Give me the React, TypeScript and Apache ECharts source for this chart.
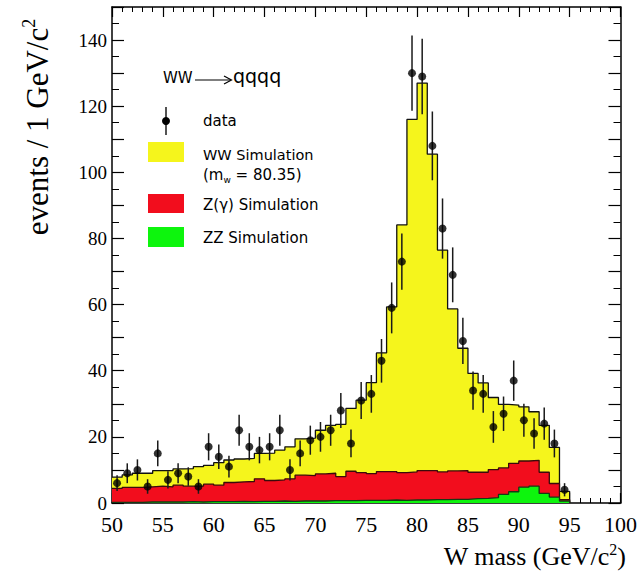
import React, { useEffect, useRef } from "react";
import * as echarts from "echarts";

// Lower edges of 1 GeV bins (W mass, GeV/c^2)
const BIN_LOW = [
  50, 51, 52, 53, 54, 55, 56, 57, 58, 59,
  60, 61, 62, 63, 64, 65, 66, 67, 68, 69,
  70, 71, 72, 73, 74, 75, 76, 77, 78, 79,
  80, 81, 82, 83, 84, 85, 86, 87, 88, 89,
  90, 91, 92, 93, 94,
];
const BIN_HIGH_END = 95;

// Observed events per bin
const DATA_COUNTS = [
  6, 9, 10, 5, 15, 7, 9, 8, 5, 17,
  14, 11, 22, 17, 16, 17, 22, 10, 15, 19,
  20, 22, 28, 18, 31, 33, 43, 59, 73, 130,
  129, 108, 83, 69, 49, 34, 33, 23, 27, 37,
  25, 21, 24, 18, 4,
];
// Half-length of the error bars
const DATA_ERRORS = [
  2.4, 3.0, 3.2, 2.2, 3.9, 2.6, 3.0, 2.8, 2.2, 4.1,
  3.7, 3.3, 4.7, 4.1, 4.0, 4.1, 4.7, 3.2, 3.9, 4.4,
  4.5, 4.7, 5.3, 4.2, 5.6, 5.7, 6.6, 7.7, 8.5, 11.4,
  11.4, 10.4, 9.1, 8.3, 7.0, 5.8, 5.7, 4.8, 5.2, 6.1,
  5.0, 4.6, 4.9, 4.2, 2.0,
];
// Stacked simulation: top of WW + Z(gamma) + ZZ
const TOTAL_SIM_TOP = [
  7.8, 8.5, 9.0, 9.0, 9.8, 9.8, 10.3, 10.4, 11.0, 11.4,
  12.2, 13.0, 13.3, 13.5, 15.0, 15.1, 16.0, 17.0, 19.4, 19.6,
  22.0, 23.5, 23.8, 28.6, 31.1, 36.4, 45.4, 59.3, 84.1, 116.0,
  127.0, 105.5, 76.5, 58.7, 46.8, 39.2, 36.3, 31.9, 29.8, 29.6,
  29.1, 27.6, 23.5, 16.8, 3.5,
];
// Top of Z(gamma) + ZZ
const ZGAMMA_SIM_TOP = [
  4.4, 4.7, 4.7, 4.9, 5.1, 4.9, 5.4, 5.1, 5.1, 5.7,
  5.4, 6.2, 6.4, 6.5, 7.3, 6.8, 7.0, 7.3, 8.4, 8.3,
  8.8, 9.0, 8.0, 9.6, 9.2, 8.9, 9.5, 9.5, 9.2, 9.4,
  9.8, 9.8, 9.4, 9.7, 9.8, 9.3, 9.3, 10.1, 10.6, 12.0,
  12.7, 12.9, 9.3, 5.9, 1.0,
];
// ZZ simulation
const ZZ_SIM = [
  0.2, 0.2, 0.2, 0.3, 0.3, 0.3, 0.3, 0.4, 0.3, 0.4,
  0.4, 0.4, 0.5, 0.4, 0.5, 0.5, 0.6, 0.5, 0.6, 0.6,
  0.6, 0.7, 0.7, 0.7, 0.8, 0.8, 0.8, 0.9, 0.8, 0.9,
  0.9, 1.0, 1.0, 1.1, 1.1, 1.3, 1.4, 1.6, 2.6, 3.4,
  4.8, 5.1, 2.9, 1.8, 0.6,
];

const YELLOW = "#f5f51c";
const RED = "#f20d1d";
const GREEN = "#0df50d";
const SERIF = "'Liberation Serif', 'Times New Roman', serif";
const SANS = "'DejaVu Sans', sans-serif";

function stepData(values: number[]) {
  const pts: number[][] = BIN_LOW.map((x, i) => [x, values[i]]);
  pts.push([BIN_HIGH_END, values[values.length - 1]]);
  pts.push([BIN_HIGH_END, 0]);
  return pts;
}

function histSeries(values: number[], color: string, line: string, z: number) {
  return {
    type: "line",
    step: "end",
    data: stepData(values),
    showSymbol: false,
    symbol: "none",
    z,
    lineStyle: { color: line, width: 1.3 },
    areaStyle: { color, opacity: 1, origin: "start" },
    silent: true,
  };
}

function xAxisDef(position: "bottom" | "top") {
  return {
    type: "value",
    position,
    min: 50,
    max: 100,
    interval: 5,
    axisLine: { show: true, onZero: false, lineStyle: { color: "#000", width: 1.5 } },
    axisTick: { show: true, inside: true, length: 10, lineStyle: { color: "#000", width: 1.2 } },
    minorTick: { show: true, splitNumber: 5, length: 5, lineStyle: { color: "#000", width: 1 } },
    splitLine: { show: false },
    minorSplitLine: { show: false },
    axisLabel: {
      show: position === "bottom",
      color: "#000",
      fontFamily: SERIF,
      fontSize: 22,
      lineHeight: 20,
      margin: 11,
    },
  };
}

function yAxisDef(position: "left" | "right") {
  return {
    type: "value",
    position,
    min: 0,
    max: 150,
    interval: 10,
    axisLine: { show: true, onZero: false, lineStyle: { color: "#000", width: 1.5 } },
    axisTick: { show: true, inside: true, length: 12, lineStyle: { color: "#000", width: 1.2 } },
    minorTick: { show: true, splitNumber: 2, length: 7, lineStyle: { color: "#000", width: 1 } },
    splitLine: { show: false },
    minorSplitLine: { show: false },
    axisLabel: {
      show: position === "left",
      color: "#000",
      fontFamily: SERIF,
      fontSize: 19,
      lineHeight: 16,
      margin: 5,
      formatter: (v: number) => (v % 20 === 0 ? String(v) : ""),
    },
  };
}

export default function App() {
  const ref = useRef<HTMLDivElement>(null);

  useEffect(() => {
    if (!ref.current) return;
    const chart = echarts.init(ref.current, null, { renderer: "svg" });

    const centers = BIN_LOW.map((x) => x + 0.5);
    const pointData = centers.map((c, i) => [c, DATA_COUNTS[i]]);
    const errData = centers.map((c, i) => [c, DATA_COUNTS[i] - DATA_ERRORS[i], DATA_COUNTS[i] + DATA_ERRORS[i]]);

    const legendText = (text: string, x: number, y: number, size = 15) => ({
      type: "text",
      x,
      y,
      z: 100,
      style: { text, fill: "#000", fontFamily: SANS, fontSize: size, verticalAlign: "middle", align: "left" },
    });

    const option: any = {
      animation: false,
      backgroundColor: "#fff",
      grid: { left: 112, right: 15, top: 7, bottom: 72, containLabel: false },
      xAxis: [xAxisDef("bottom"), xAxisDef("top")],
      yAxis: [yAxisDef("left"), yAxisDef("right")],
      series: [
        histSeries(TOTAL_SIM_TOP, YELLOW, "#111", 1),
        histSeries(ZGAMMA_SIM_TOP, RED, "#3a0a0a", 2),
        histSeries(ZZ_SIM, GREEN, "#153a15", 3),
        {
          type: "custom",
          z: 4,
          data: errData,
          encode: { x: 0, y: [1, 2] },
          renderItem: (params: any, api: any) => {
            const x = api.value(0);
            const p1 = api.coord([x, api.value(1)]);
            const p2 = api.coord([x, api.value(2)]);
            return {
              type: "line",
              shape: { x1: p1[0], y1: p1[1], x2: p2[0], y2: p2[1] },
              style: { stroke: "#1a1a1a", lineWidth: 1.5 },
            };
          },
          silent: true,
        },
        {
          type: "scatter",
          z: 5,
          data: pointData,
          symbol: "circle",
          symbolSize: 8,
          itemStyle: { color: "#000" },
          silent: true,
        },
      ],
      graphic: [
        legendText("WW", 163, 78, 15),
        {
          type: "line",
          z: 100,
          shape: { x1: 195, y1: 80, x2: 231, y2: 80 },
          style: { stroke: "#000", lineWidth: 1.2 },
        },
        {
          type: "polyline",
          z: 100,
          shape: { points: [[224, 76], [231.5, 80], [224, 84]] },
          style: { stroke: "#000", lineWidth: 1.2, fill: "none" },
        },
        legendText("qqqq", 233, 76, 19),
        {
          type: "line",
          z: 100,
          shape: { x1: 166, y1: 107, x2: 166, y2: 135 },
          style: { stroke: "#1a1a1a", lineWidth: 1.5 },
        },
        { type: "circle", z: 101, shape: { cx: 166, cy: 121, r: 4 }, style: { fill: "#000" } },
        legendText("data", 203, 121),
        { type: "rect", z: 100, shape: { x: 148, y: 142, width: 36, height: 20 }, style: { fill: YELLOW } },
        legendText("WW Simulation", 203, 155, 14.5),
        {
          type: "text",
          x: 203,
          y: 175,
          z: 100,
          style: {
            text: "{a|(m}{s|w}{a| = 80.35)}",
            fill: "#000",
            fontFamily: SANS,
            fontSize: 15,
            verticalAlign: "middle",
            rich: {
              a: { fontFamily: SANS, fontSize: 15, fill: "#000", lineHeight: 18 },
              s: { fontFamily: SANS, fontSize: 9, fill: "#000", verticalAlign: "bottom", lineHeight: 12 },
            },
          },
        },
        { type: "rect", z: 100, shape: { x: 148, y: 194, width: 36, height: 19 }, style: { fill: RED } },
        legendText("Z(γ) Simulation", 203, 205),
        { type: "rect", z: 100, shape: { x: 148, y: 227, width: 36, height: 20 }, style: { fill: GREEN } },
        legendText("ZZ Simulation", 203, 238),
        {
          type: "text",
          x: 626,
          y: 556,
          z: 100,
          style: {
            text: "{n|W mass (GeV/c}{s|2}{n|)}",
            align: "right",
            verticalAlign: "middle",
            rich: {
              n: { fontFamily: SERIF, fontSize: 26, fill: "#000", lineHeight: 30 },
              s: { fontFamily: SERIF, fontSize: 16, fill: "#000", verticalAlign: "top", lineHeight: 16 },
            },
          },
        },
        {
          type: "text",
          x: 37,
          y: 127,
          rotation: Math.PI / 2,
          z: 100,
          style: {
            text: "{n|events / 1 GeV/c}{s|2}",
            align: "center",
            verticalAlign: "middle",
            rich: {
              n: { fontFamily: SERIF, fontSize: 31, fill: "#000", lineHeight: 35 },
              s: { fontFamily: SERIF, fontSize: 18, fill: "#000", verticalAlign: "top", lineHeight: 18 },
            },
          },
        },
      ],
    };

    chart.setOption(option);
    return () => chart.dispose();
  }, []);

  return (
    <div
      ref={ref}
      style={{ position: "fixed", left: 0, top: 0, width: 640, height: 575, background: "#fff" }}
    />
  );
}
